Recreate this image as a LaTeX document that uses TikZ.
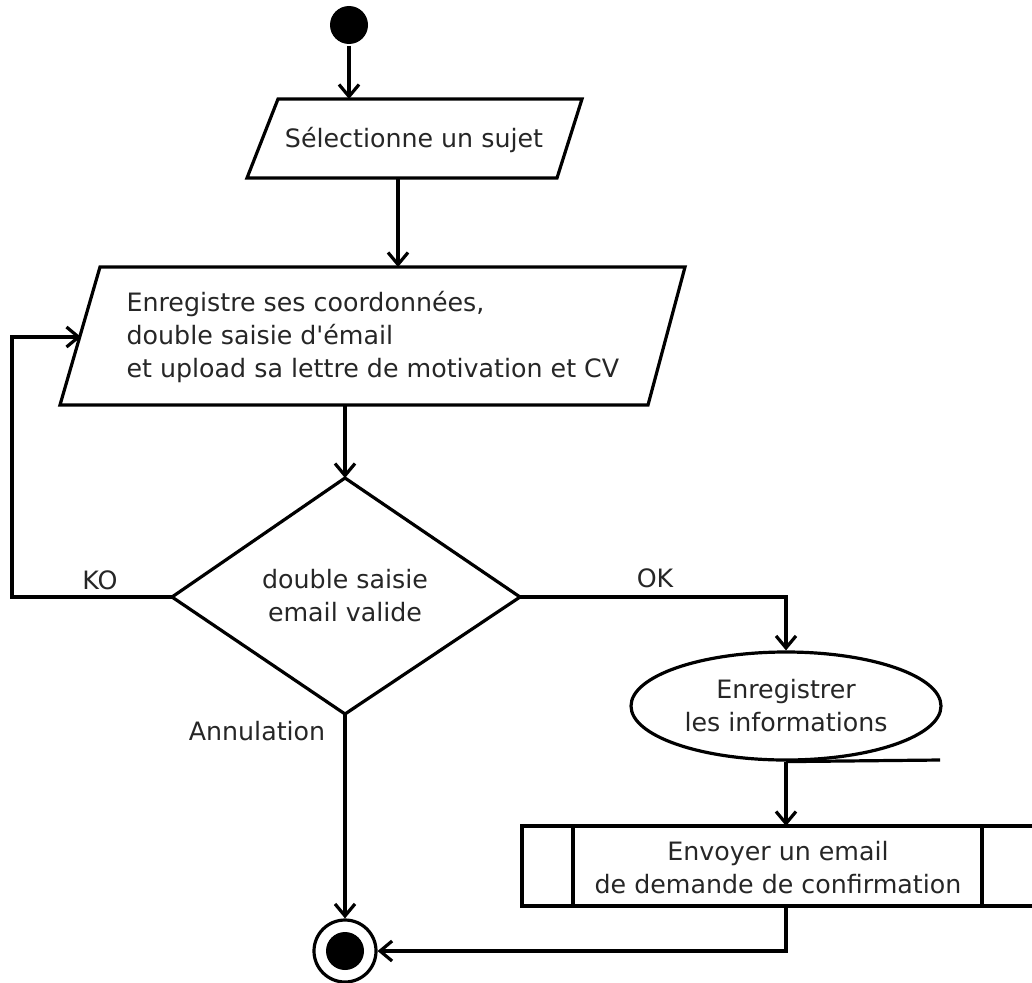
\documentclass[tikz,border=0pt]{standalone}
\usepackage{fontspec}
\newfontfamily\dvs{DejaVu Sans}
\usetikzlibrary{arrows.meta,shapes.geometric}
\begin{document}
\begin{tikzpicture}[x=1pt,y=-1pt,
  line width=3.2pt,
  arr/.style={-{Straight Barb[length=12pt,width=20pt,line width=3.2pt]}},
  txt/.style={font=\dvs\fontsize{25.3}{33}\selectfont, inner sep=0pt, text=black!85},
]
\useasboundingbox (0,0) rectangle (1032,982);
\clip (0,0) rectangle (1032,982);

% start
\node[circle, fill=black, minimum size=38pt, inner sep=0pt] (start) at (349,25) {};

% input 1
\draw (278,99) -- (582,99) -- (557,178) -- (247,178) -- cycle;
\node[txt] (p1) at (414,140) {Sélectionne un sujet};
\coordinate (p1in) at (349,99);
\coordinate (p1out) at (398,178);

% input 2
\draw (100,267) -- (685,267) -- (648,405) -- (60,405) -- cycle;
\node[txt, align=left, anchor=west] (p2) at (125,337) {Enregistre ses coordonnées,\\double saisie d'émail\\et upload sa lettre de motivation et CV};
\coordinate (p2in) at (398,267);
\coordinate (p2left) at (81,337);
\coordinate (p2out) at (345,405);

% decision
\coordinate (dtop) at (345,478);
\coordinate (dright) at (520,597);
\coordinate (dbot) at (345,714);
\coordinate (dleft) at (172,597);
\draw (dtop) -- (dright) -- (dbot) -- (dleft) -- cycle;
\node[txt, align=center] (dtext) at (345,596) {double saisie\\email valide};

% ellipse
\node[draw, ellipse, txt, align=center, minimum width=310pt, minimum height=108pt] (ell) at (786,706) {Enregistrer\\les informations};
\coordinate (elltail) at (940,760);

% predefined process
\draw (522,826) rectangle (1045,906);
\draw (573,826) -- (573,906);
\draw (982,826) -- (982,906);
\node[txt, align=center] (box) at (778,868) {Envoyer un email\\de demande de confirmation};
\coordinate (boxin) at (786,826);
\coordinate (boxout) at (786,906);

% end
\node[circle, draw, minimum size=62pt, inner sep=0pt] (end) at (345,951) {};
\node[circle, fill=black, minimum size=38pt, inner sep=0pt] (endin) at (345,951) {};

% corners
\coordinate (kocorner) at (12,597);
\coordinate (okcorner) at (786,597);
\coordinate (endcorner) at (786,951);

% connectors
\draw[arr] (start) -- (p1in);
\draw[arr] (p1out) -- (p2in);
\draw[arr] (p2out) -- (dtop);
\draw[arr] (dleft) -- (kocorner) |- (p2left);
\draw[arr] (dright) -- (okcorner) -- (ell.north);
\draw (ell.south) -- (elltail);
\draw[arr] (ell.south) -- (boxin);
\draw[arr] (boxout) -- (endcorner) -- (end);
\draw[arr] (dbot) -- (end);

% labels
\node[txt] (ko) at (100,580) {KO};
\node[txt] (ok) at (655,578) {OK};
\node[txt] (ann) at (257,731) {Annulation};
\end{tikzpicture}
\end{document}
